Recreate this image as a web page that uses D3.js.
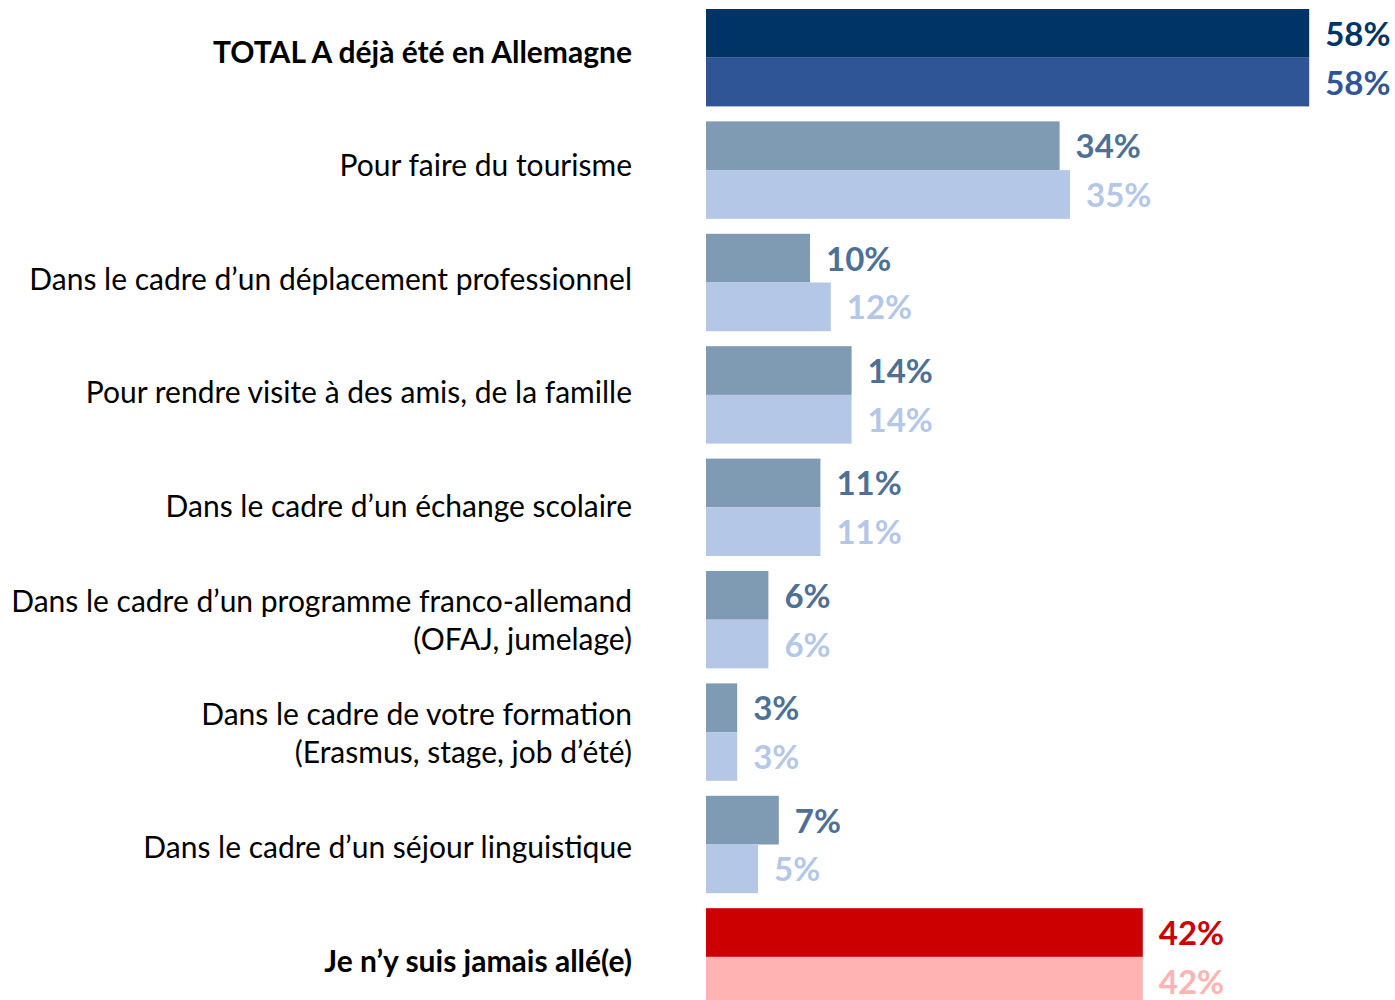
<!DOCTYPE html>
<html>
<head>
<meta charset="utf-8">
<script src="https://cdn.jsdelivr.net/npm/d3@7"></script>
<style>
  html, body { margin: 0; padding: 0; background: #fff; }
  svg { display: block; }
</style>
</head>
<body>
<svg id="chart" width="1395" height="1000"></svg>
<script>
// Categories: each line of a label is an entry of the inner array
const categories = [
  ["TOTAL A déjà été en Allemagne"],
  ["Pour faire du tourisme"],
  ["Dans le cadre d’un déplacement professionnel"],
  ["Pour rendre visite à des amis, de la famille"],
  ["Dans le cadre d’un échange scolaire"],
  ["Dans le cadre d’un programme franco-allemand", "(OFAJ, jumelage)"],
  ["Dans le cadre de votre formation", "(Erasmus, stage, job d’été)"],
  ["Dans le cadre d’un séjour linguistique"],
  ["Je n’y suis jamais allé(e)"]
];
const boldRows = [0, 8];

// Two survey waves (percent)
const wave1 = [58, 34, 10, 14, 11, 6, 3, 7, 42];
const wave2 = [58, 35, 12, 14, 11, 6, 3, 5, 42];
const seriesKeys = ["wave1", "wave2"];

// Colours per row type: [bar wave1, bar wave2, label wave1, label wave2]
const palette = {
  total: ["#003366", "#2f5597", "#003366", "#2f5597"],
  detail: ["#7f9ab3", "#b4c7e7", "#4e6f96", "#b4c7e7"],
  never: ["#cc0000", "#ffb3b3", "#cc0000", "#ffb3b3"]
};
function rowPalette(i) {
  if (i === 0) return palette.total;
  if (i === 8) return palette.never;
  return palette.detail;
}

const svg = d3.select("#chart");
const rows = categories.map((c, i) => ({ i, label: c, wave1: wave1[i], wave2: wave2[i] }));

const x = d3.scaleLinear().domain([0, 100]).range([706, 1746]);
const y = d3.scaleBand()
  .domain(d3.range(categories.length))
  .range([9, 1005.6])
  .paddingInner(0.1334)
  .paddingOuter(0);
const ySub = d3.scaleBand().domain(seriesKeys).range([0, y.bandwidth()]);
// Category labels sit on their own, slightly wider-spaced axis
const yLabel = d3.scalePoint().domain(d3.range(categories.length)).range([52, 961]);

const groups = svg.selectAll("g.row")
  .data(rows)
  .join("g")
  .attr("class", "row")
  .attr("transform", d => `translate(0,${y(d.i)})`);

// Bars
groups.selectAll("rect")
  .data(d => seriesKeys.map((k, j) => ({ k, j, v: d[k], row: d.i })))
  .join("rect")
  .attr("x", x(0))
  .attr("y", d => ySub(d.k))
  .attr("width", d => x(d.v) - x(0))
  .attr("height", ySub.bandwidth())
  .attr("fill", d => rowPalette(d.row)[d.j]);

// Value labels
groups.selectAll("text.val")
  .data(d => seriesKeys.map((k, j) => ({ k, j, v: d[k], row: d.i })))
  .join("text")
  .attr("class", "val")
  .attr("x", d => x(d.v) + 16)
  .attr("y", d => ySub(d.k) + ySub.bandwidth() / 2)
  .attr("dy", "0.38em")
  .attr("font-family", "Lato, 'Open Sans', sans-serif")
  .attr("font-weight", 700)
  .attr("font-size", 33)
  .attr("fill", d => rowPalette(d.row)[d.j + 2])
  .text(d => d.v + "%");

// Category labels, right aligned
const labels = svg.append("g").attr("class", "labels");
rows.forEach(d => {
  const lines = d.label;
  const lh = 38;
  const c = yLabel(d.i);
  const t = labels.append("text")
    .attr("text-anchor", "end")
    .attr("font-family", "Lato, 'Open Sans', sans-serif")
    .attr("font-size", 30)
    .attr("font-weight", boldRows.includes(d.i) ? 700 : 400)
    .attr("fill", "#000");
  lines.forEach((ln, k) => {
    t.append("tspan")
      .attr("x", 632)
      .attr("y", c + (k - (lines.length - 1) / 2) * lh)
      .attr("dy", "0.35em")
      .text(ln);
  });
});
</script>
</body>
</html>
